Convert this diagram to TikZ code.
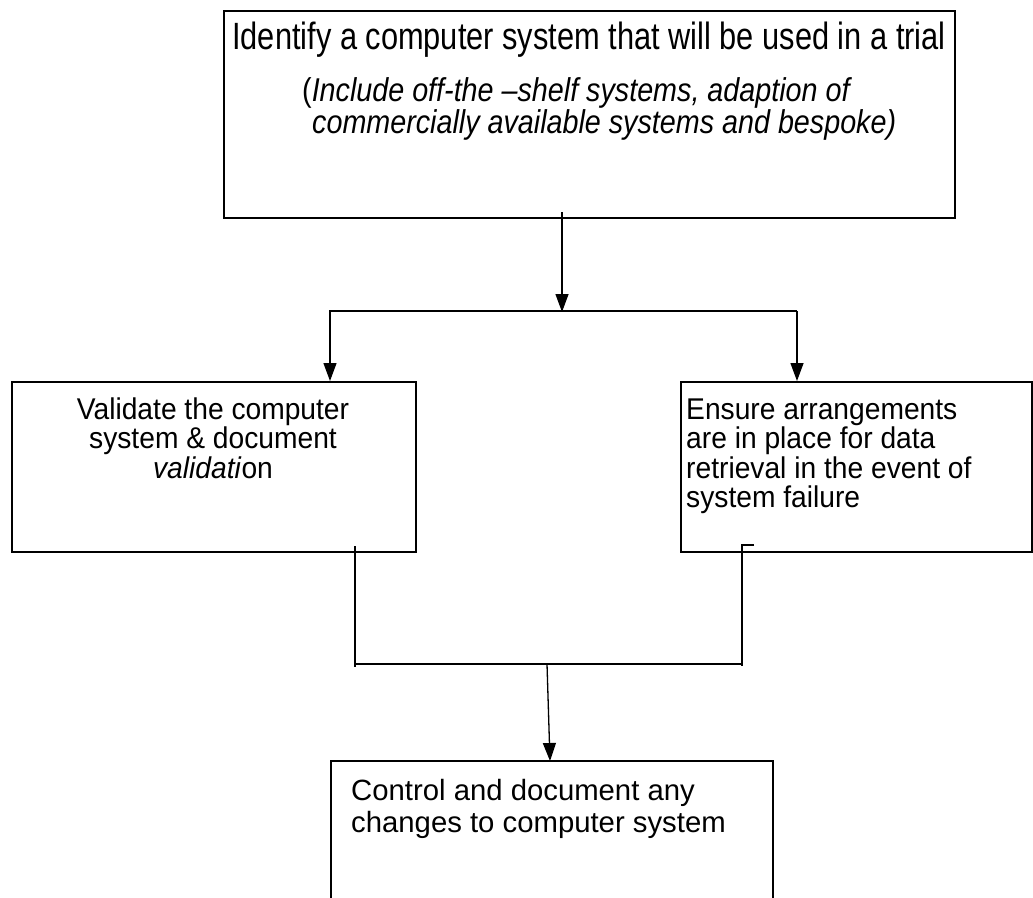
\documentclass[tikz,border=0pt]{standalone}
\usepackage{fontspec}
\setmainfont{Liberation Sans}
\newfontfamily\narrowA[FakeStretch=0.81]{Liberation Sans}
\newfontfamily\narrowB[FakeStretch=0.87]{Liberation Sans}
\newfontfamily\narrowC[FakeStretch=0.94]{Liberation Sans}
\usetikzlibrary{arrows.meta}
\begin{document}
\begin{tikzpicture}[x=1pt,y=-1pt,
  boxA/.style={draw,line width=1.7pt,inner sep=0pt,anchor=north west},
  conn/.style={line width=1.3pt},
  arr/.style={conn,-{Triangle[length=18pt,width=13pt]}},
  toptxt/.style={font=\narrowA\fontsize{38}{42}\selectfont,anchor=base,inner sep=0pt},
  topital/.style={font={\narrowB\fontsize{33}{32}\selectfont\lineskiplimit=-100pt},
    align=left,anchor=north west,inner sep=0pt},
  sidetxt/.style={font={\narrowC\fontsize{30}{29.5}\selectfont\lineskiplimit=-100pt},inner sep=0pt},
  bottxt/.style={font={\fontsize{29.3}{32}\selectfont\lineskiplimit=-100pt},
    align=left,anchor=north west,inner sep=0pt}]
\useasboundingbox (0,0) rectangle (1033,897);
% boxes
\node[boxA,minimum width=731pt,minimum height=207pt] (top) at (223,10) {};
\node[boxA,minimum width=404pt,minimum height=170pt] (left) at (11,381) {};
\node[boxA,minimum width=351pt,minimum height=170pt] (right) at (680,381) {};
\node[boxA,minimum width=442pt,minimum height=220pt] (bot) at (330,760) {};
% texts
\node[toptxt] (t1) at (589,49) {Identify a computer system that will be used in a trial};
\node[topital] (t2) at (302,67)
  {\rule{0pt}{34pt}(\textit{Include off-the –shelf systems, adaption of}\\
   \hspace*{10pt}\textit{commercially available systems and bespoke)}};
\node[sidetxt,align=center,anchor=north] (v) at (213,388)
  {\rule{0pt}{31pt}Validate the computer\\ system \& document\\ \textit{validati}on};
\node[sidetxt,align=left,anchor=north west] (e) at (686,388)
  {\rule{0pt}{31pt}Ensure arrangements\\ are in place for data\\ retrieval in the event of\\ system failure};
\node[bottxt] (c) at (351,772)
  {\rule{0pt}{28pt}Control and document any\\ changes to computer system};
% connector coordinates
\coordinate (j0) at (562,212);
\coordinate (j1) at (562,312);
\coordinate (bl) at (330,311);
\coordinate (br) at (797,311);
\coordinate (l1) at (355,546);
\coordinate (l2) at (355,667);
\coordinate (r0) at (754,545);
\coordinate (r1) at (742,545);
\coordinate (r2) at (742,666);
\coordinate (ml) at (355,664);
\coordinate (mr) at (742,664);
\coordinate (m0) at (547,664);
\coordinate (m1) at (550,761);
% connectors
\draw[arr] (j0) -- (j1);
\draw[arr] (br) -- (bl) -- (bl |- left.north);
\draw[arr] (br) -- (br |- right.north);
\draw[conn] (l1) -- (l2);
\draw[conn] (r0) -- (r1) -- (r2);
\draw[conn] (ml) -- (mr);
\draw[arr] (m0) -- (m1);
\end{tikzpicture}
\end{document}
